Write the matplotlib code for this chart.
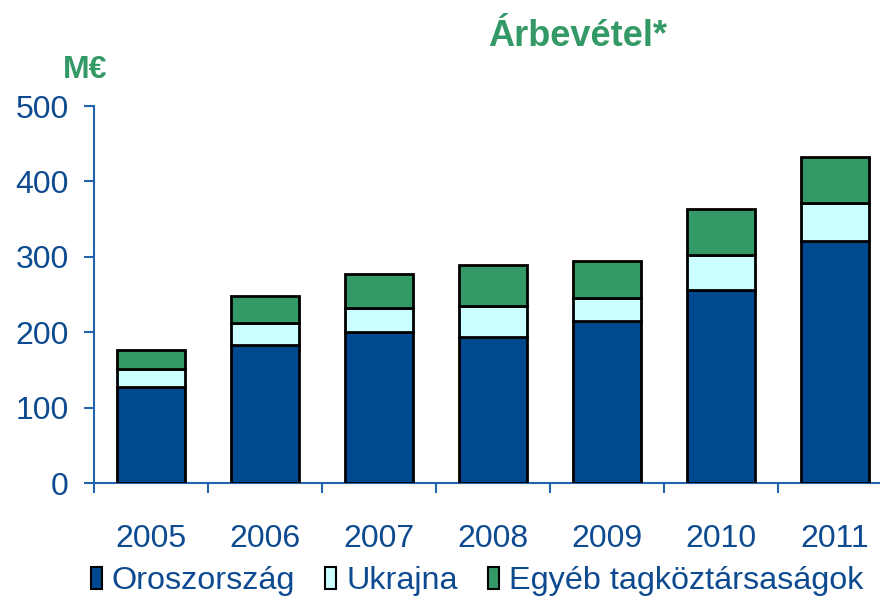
import numpy as np
import matplotlib.pyplot as plt
from matplotlib.patches import Patch

# adatok (M€)
years = ['2005', '2006', '2007', '2008', '2009', '2010', '2011']
oroszorszag = [127, 183, 200, 194, 215, 256, 321]
ukrajna = [24, 30, 32, 41, 30, 46, 51]
egyeb = [25, 35, 46, 54, 49, 62, 61]

c_blue = '#004990'
c_cyan = '#CCFFFF'
c_green = '#339966'
c_text = '#0D4A90'
c_axis = '#2363AB'

plt.rcParams['font.family'] = ['Liberation Sans', 'DejaVu Sans']

fig = plt.figure(figsize=(8.8, 6), dpi=100)
ax = fig.add_axes([94/880, 116.7/600, 7*114/880, 377.3/600])

x = np.arange(len(years))
o = np.array(oroszorszag)
u = np.array(ukrajna)
e = np.array(egyeb)
kw = dict(width=0.6, edgecolor='black', linewidth=2, zorder=3)
ax.bar(x, o, color=c_blue, **kw)
ax.bar(x, u, bottom=o, color=c_cyan, **kw)
ax.bar(x, e, bottom=o+u, color=c_green, **kw)

ax.set_xlim(-0.5, 6.5)
ax.set_ylim(0, 500)
ax.set_yticks([0, 100, 200, 300, 400, 500])
ax.set_xticks(x)
ax.set_xticklabels(years)
ax.set_xticks(np.arange(-0.5, 7, 1), minor=True)

for s in ['top', 'right']:
    ax.spines[s].set_visible(False)
for s in ['left', 'bottom']:
    ax.spines[s].set_color(c_axis)
    ax.spines[s].set_linewidth(1.5)

ax.tick_params(axis='y', colors=c_axis, labelcolor=c_text, labelsize=23,
               length=7, width=1.5, pad=11)
ax.tick_params(axis='x', which='major', length=0, labelcolor=c_text,
               labelsize=23, pad=29)
ax.tick_params(axis='x', which='minor', length=7, width=1.5, colors=c_axis)

fig.text(578/880, 1-46/600, 'Árbevétel*', color=c_green, fontsize=26,
         fontweight='bold', ha='center', va='baseline')
fig.text(85/880, 1-78/600, 'M€', color=c_green, fontsize=23,
         fontweight='bold', ha='center', va='baseline')

handles = [Patch(facecolor=c_blue, edgecolor='black', linewidth=1.5),
           Patch(facecolor=c_cyan, edgecolor='black', linewidth=1.5),
           Patch(facecolor=c_green, edgecolor='black', linewidth=1.5)]
labels = ['Oroszország', 'Ukrajna', 'Egyéb tagköztársaságok']
leg = fig.legend(handles, labels, loc='center', bbox_to_anchor=(477/880, 1-581/600),
                 ncol=3, frameon=False, fontsize=23.3, handlelength=0.34,
                 handleheight=0.68, handletextpad=0.3, columnspacing=0.95,
                 borderpad=0, borderaxespad=0)
for t in leg.get_texts():
    t.set_color(c_text)

plt.savefig('out.png', dpi=100)
